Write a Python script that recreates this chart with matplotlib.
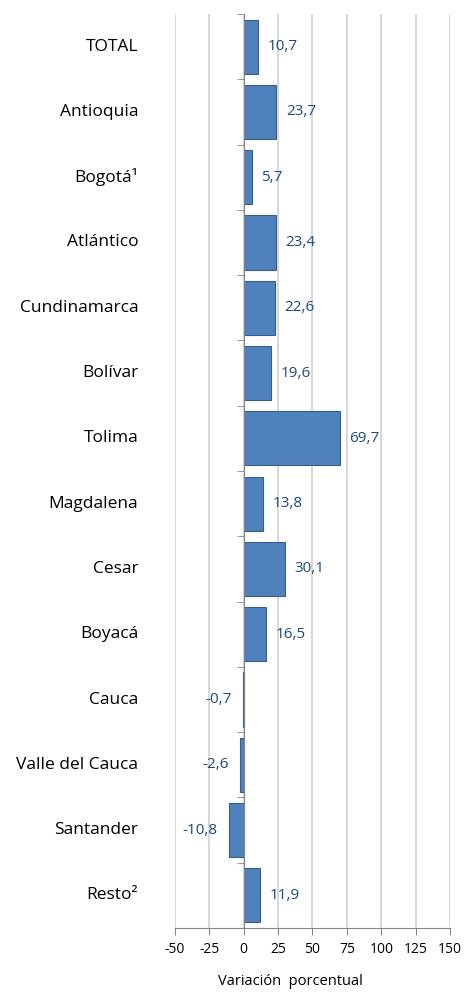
import matplotlib.pyplot as plt
import matplotlib.transforms as mtransforms
import numpy as np

categorias = ["TOTAL", "Antioquia", "Bogotá¹", "Atlántico", "Cundinamarca",
              "Bolívar", "Tolima", "Magdalena", "Cesar", "Boyacá", "Cauca",
              "Valle del Cauca", "Santander", "Resto²"]
variacion = [10.7, 23.7, 5.7, 23.4, 22.6, 19.6, 69.7, 13.8, 30.1, 16.5,
             -0.7, -2.6, -10.8, 11.9]
xticks = [-50, -25, 0, 25, 50, 75, 100, 125, 150]

plt.rcParams['font.family'] = ['Open Sans', 'DejaVu Sans']

fig = plt.figure(figsize=(4.65, 10), dpi=100)
ax = fig.add_axes([0.376, 0.072, 0.592, 0.914])

y = np.arange(len(categorias))
ax.barh(y, variacion, height=0.83, color="#4F81BD", edgecolor="#385D8A",
        linewidth=0.8, zorder=3)

ax.set_xlim(-50, 150)
ax.set_ylim(len(categorias) - 0.5, -0.5)
ax.set_xticks(xticks)
ax.set_xticklabels([str(t) for t in xticks], fontsize=10)
ax.xaxis.grid(True, color="#D9D9D9", linewidth=1.5, zorder=0)

# eje vertical en cero con marcas entre categorias
ax.spines['left'].set_position(('data', 0))
ax.spines['left'].set_color("#868686")
ax.spines['left'].set_zorder(4)
ax.spines['top'].set_visible(False)
ax.spines['right'].set_visible(False)
ax.spines['bottom'].set_color("#868686")
ax.set_yticks(y)
ax.set_yticklabels([])
ax.tick_params(axis='y', which='major', length=0)
ax.set_yticks(np.arange(len(categorias) + 1) - 0.5, minor=True)
ax.tick_params(axis='y', which='minor', length=5, color="#868686", direction='out')
ax.tick_params(axis='x', length=5, color="#868686", pad=5)

trans = mtransforms.blended_transform_factory(ax.transAxes, ax.transData)
for yi, cat in zip(y, categorias):
    ax.text(-0.133, yi, cat, transform=trans, ha='right', va='center', fontsize=12.5)

for yi, v in zip(y, variacion):
    etiqueta = f"{v:.1f}".replace(".", ",")
    if v >= 0:
        ax.annotate(etiqueta, (v, yi), xytext=(7, 0),
                    textcoords='offset points', ha='left', va='center',
                    fontsize=11, color="#1F497D")
    else:
        ax.annotate(etiqueta, (v, yi), xytext=(-8, 0),
                    textcoords='offset points', ha='right', va='center',
                    fontsize=11, color="#1F497D")

ax.set_xlabel("Variación  porcentual", fontsize=10.5)
ax.xaxis.set_label_coords(0.42, -0.05)

fig.savefig("out.png", dpi=100)
